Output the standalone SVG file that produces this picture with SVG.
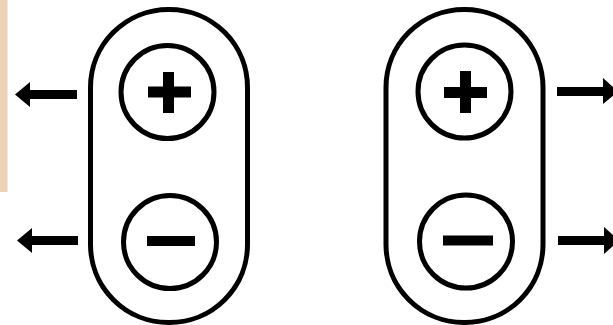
<svg xmlns="http://www.w3.org/2000/svg" width="613" height="325" viewBox="0 0 613 325">
<style>
.cap{fill:none;stroke:#000;stroke-width:5}
.pole{fill:none;stroke:#000;stroke-width:5}
.sign{fill:#000}
.arr{fill:#000}
</style>
<rect x="0" y="0" width="613" height="325" fill="#fff"/>
<rect x="0" y="0" width="7.5" height="192" fill="#ecd2b6"/>
<g id="left-particle">
<rect class="cap" x="90.5" y="9.5" width="157" height="313" rx="78" ry="78"/>
<g id="left-plus">
<circle class="pole" cx="167.5" cy="92" r="46.5"/>
<rect class="sign" x="148" y="86.5" width="43" height="11"/>
<rect class="sign" x="163" y="72" width="11" height="41"/>
</g>
<g id="left-minus">
<circle class="pole" cx="170" cy="242" r="46.5"/>
<rect class="sign" x="147" y="236" width="48" height="10"/>
</g>
</g>
<g id="right-particle">
<rect class="cap" x="386" y="9.5" width="157" height="313" rx="78" ry="78"/>
<g id="right-plus">
<circle class="pole" cx="464.5" cy="91.5" r="46.5"/>
<rect class="sign" x="444" y="87" width="43" height="11"/>
<rect class="sign" x="460" y="71" width="11" height="42"/>
</g>
<g id="right-minus">
<circle class="pole" cx="466" cy="241.5" r="46.5"/>
<rect class="sign" x="443" y="235.5" width="50" height="10"/>
</g>
</g>
<g id="connectors">
<polygon class="arr" points="77,90 30,90 30,82 15,94.5 30,107 30,99 77,99"/>
<polygon class="arr" points="78,236 32,236 32,228 17,240.5 32,253 32,245 78,245"/>
<polygon class="arr" points="557,87 603,87 603,78 618,91.5 603,104 603,96 557,96"/>
<polygon class="arr" points="558,236 604,236 604,227 619,240.5 604,254 604,245 558,245"/>
</g>
</svg>
